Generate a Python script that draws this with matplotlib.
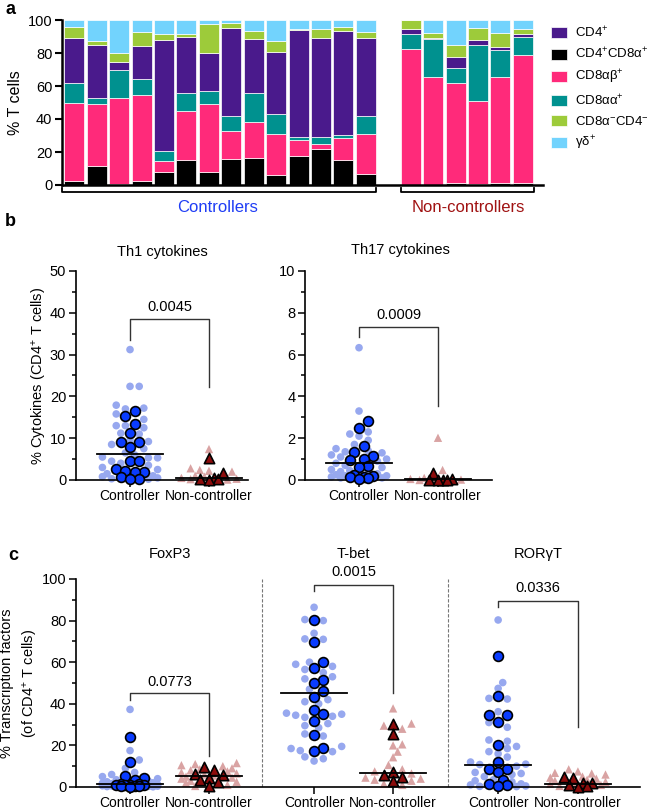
import numpy as np
import matplotlib.pyplot as plt

plt.rcParams['font.family'] = ['Liberation Sans', 'DejaVu Sans']
plt.rcParams['mathtext.fontset'] = 'custom'
plt.rcParams['mathtext.rm'] = 'Liberation Sans'
plt.rcParams['mathtext.it'] = 'Liberation Sans:italic'

# ---- panel a data (percent of T cells per animal) ----
ctrl_black  = [2.4, 11.7, 0.5, 2.4, 8.0, 15.4, 8.0, 16.0, 16.4, 5.9, 17.6, 21.6, 15.2, 6.7]
ctrl_pink   = [47.6, 37.6, 52.2, 51.9, 6.3, 29.4, 41.3, 17.0, 21.6, 25.1, 9.4, 3.4, 13.1, 24.3]
ctrl_teal   = [12.0, 3.7, 17.3, 9.7, 6.5, 11.0, 7.5, 8.8, 17.6, 11.8, 2.0, 4.0, 2.0, 11.0]
ctrl_purple = [27.0, 32.0, 4.5, 20.4, 67.2, 34.2, 23.4, 53.6, 33.1, 38.0, 64.7, 60.0, 63.2, 46.9]
ctrl_green  = [7.0, 2.3, 5.5, 8.6, 3.3, 1.7, 17.2, 2.8, 4.8, 6.2, 1.0, 5.7, 2.0, 3.6]
ctrl_cyan   = [4.0, 12.7, 20.0, 7.0, 8.7, 8.3, 2.6, 1.8, 6.5, 13.0, 5.3, 5.3, 4.5, 7.5]

nc_black  = [0.3, 0.3, 1.0, 0.5, 1.0, 1.5]
nc_pink   = [81.9, 65.0, 60.6, 50.5, 64.3, 77.1]
nc_teal   = [9.1, 23.0, 9.5, 33.6, 16.5, 11.4]
nc_purple = [3.0, 1.0, 6.5, 3.3, 2.0, 1.3]
nc_green  = [5.7, 2.7, 7.0, 7.5, 8.2, 3.0]
nc_cyan   = [0.0, 8.0, 15.4, 4.6, 8.0, 5.7]

# ---- panel b data ----
th1_ctrl_light = [31.2, 22.4, 22.4, 17.9, 17.2, 17.0, 15.8, 14.5, 13.0, 13.0, 12.5, 11.2, 11.0,
                  9.5, 9.2, 8.5, 7.5, 6.5, 6.0, 5.5, 5.3, 5.3, 4.5, 4.0, 3.5, 3.0, 2.5, 1.5,
                  1.0, 0.8, 0.5, 0.3, 0.2]
th1_ctrl_dark = [16.6, 15.2, 13.4, 11.3, 9.0, 9.0, 7.8, 4.6, 4.6, 2.6, 2.0, 2.0, 2.2, 0.6, 0.3, 0.2]
th1_nc_light = [7.4, 2.8, 2.4, 2.2, 2.0, 1.0, 0.8, 0.5, 0.3, 0.2, 0.1]
th1_nc_dark = [5.2, 1.7, 0.5, 0.3, 0.2, 0.1]
th1_medians = [6.2, 0.5]

th17_ctrl_light = [6.33, 3.3, 2.3, 2.2, 2.1, 1.9, 1.7, 1.5, 1.4, 1.35, 1.3, 1.2, 1.1, 1.0, 0.9,
                   0.8, 0.7, 0.6, 0.5, 0.45, 0.4, 0.4, 0.3, 0.3, 0.25, 0.2, 0.2, 0.15, 0.1, 0.1]
th17_ctrl_dark = [2.82, 2.47, 1.63, 1.32, 1.16, 0.99, 0.96, 0.67, 0.64, 0.24, 0.14, 0.15, 0.2, 0.1, 0.05]
th17_nc_light = [2.02, 0.48, 0.1, 0.05, 0.05, 0.02, 0.0]
th17_nc_dark = [0.33, 0.05, 0.02, 0.02, 0.0, 0.01]
th17_medians = [0.81, 0.05]

# ---- panel c data ----
fox_ctrl_light = [37.3, 17.5, 13.0, 9.0, 7.0, 6.0, 5.0, 4.0, 3.5, 3.0, 2.8, 2.5, 2.2, 2.0, 1.8,
                  1.6, 1.5, 1.2, 1.0, 0.9, 0.8, 0.7, 0.6, 0.5, 0.4, 0.3, 0.2, 0.1]
fox_ctrl_dark = [24.0, 12.0, 5.3, 4.5, 3.4, 1.6, 1.3, 1.2, 1.0, 1.0, 0.8, 0.5, 0.4, 0.3, 0.2]
fox_nc_light = [11.5, 11.0, 10.5, 10.0, 9.0, 8.5, 8.0, 7.5, 7.0, 6.5, 6.0, 5.5, 5.0, 4.5, 4.0,
                3.0, 2.5, 2.0, 1.0, 0.5]
fox_nc_dark = [9.6, 8.2, 6.2, 5.8, 4.2, 3.4, 2.6, 0.5]
fox_medians = [1.6, 5.3]

tbet_ctrl_light = [86.4, 80.5, 80.0, 73.9, 71.2, 71.0, 60.0, 59.0, 58.0, 56.5, 55.0, 53.0, 52.0,
                   47.0, 42.0, 41.0, 40.0, 35.5, 35.0, 34.5, 34.0, 33.5, 30.5, 29.5, 28.5, 25.5,
                   24.5, 19.5, 18.5, 17.5, 17.0, 14.5, 13.6, 12.5]
tbet_ctrl_dark = [80.3, 69.9, 60.0, 57.4, 51.3, 49.9, 46.3, 43.4, 37.0, 35.1, 31.7, 25.0, 18.6, 17.3]
tbet_nc_light = [37.8, 30.5, 29.5, 28.0, 20.5, 20.0, 17.0, 14.3, 10.6, 8.5, 7.5, 6.5, 4.5, 4.0,
                 3.5, 3.0, 1.5, 1.0]
tbet_nc_dark = [30.1, 25.3, 7.4, 5.8, 5.0, 2.9]
tbet_medians = [45.0, 6.9]

ror_ctrl_light = [80.3, 50.2, 47.4, 42.6, 42.3, 36.2, 31.0, 28.7, 22.6, 22.0, 19.5, 18.5, 17.0,
                  16.0, 14.4, 12.0, 11.0, 10.8, 10.0, 7.0, 6.5, 6.0, 5.0, 3.5, 3.0, 2.5, 1.5,
                  1.0, 0.5, 0.3, 0.2]
ror_ctrl_dark = [63.0, 43.8, 34.6, 34.6, 31.1, 20.2, 12.2, 8.7, 8.7, 7.4, 3.4, 1.3, 0.9, 0.6]
ror_nc_light = [8.5, 7.5, 6.8, 6.5, 6.0, 5.0, 4.5, 4.0, 3.5, 3.0, 2.5, 2.0, 1.5, 1.0, 0.5]
ror_nc_dark = [5.0, 4.5, 1.8, 1.8, 1.0, 0.3, 0.1]
ror_medians = [10.6, 1.4]

p_values = ['0.0045', '0.0009', '0.0773', '0.0015', '0.0336']

# colours
c_purple = '#4a1a8c'
c_pink = '#ff2a7a'
c_teal = '#00918f'
c_green = '#9dcb3a'
c_cyan = '#72d3fd'
light_blue = '#97a8ef'
dark_blue = '#0a3cff'
light_red = '#d9a3a3'
dark_red = '#8c0c0c'

W, H = 653, 809
fig = plt.figure(figsize=(W / 100, H / 100), dpi=100)


def box(l, r, t, b):
    return [l / W, 1 - b / H, (r - l) / W, (b - t) / H]


def swarm(vals, ppx, ppy, diam, step, maxk, placed):
    # place points side by side in columns (pixel units), overlapping when crowded
    vals = np.asarray(vals, float)
    xs = np.zeros(len(vals))
    cands = [0.0]
    for k in range(1, maxk + 1):
        cands += [k * step, -k * step]
    for i in np.argsort(vals):
        y = vals[i] * ppy
        best, best_d = None, -1
        for x in cands:
            d = min([np.hypot(x - px, y - py) for px, py in placed] + [1e9])
            if d >= diam:
                best = x
                break
            if d > best_d:
                best, best_d = x, d
        placed.append((best, y))
        xs[i] = best / ppx
    return xs


# ================= panel a =================
ax = fig.add_axes(box(62, 543, 20, 185))
pos = list(range(14)) + list(range(15, 21))
stack = [
    (ctrl_black + nc_black, 'black', 'CD4$^{+}$CD8α$^{+}$'),
    (ctrl_pink + nc_pink, c_pink, 'CD8αβ$^{+}$'),
    (ctrl_teal + nc_teal, c_teal, 'CD8αα$^{+}$'),
    (ctrl_purple + nc_purple, c_purple, 'CD4$^{+}$'),
    (ctrl_green + nc_green, c_green, 'CD8α$^{-}$CD4$^{-}$'),
    (ctrl_cyan + nc_cyan, c_cyan, 'γδ$^{+}$'),
]
bottom = np.zeros(len(pos))
handles = {}
for vals, col, lab in stack:
    h = ax.bar(pos, vals, bottom=bottom, width=0.89, color=col, edgecolor='white',
               linewidth=0.5, label=lab)
    handles[lab] = h
    bottom += np.array(vals)
ax.set_xlim(-0.55, 20.9)
ax.set_ylim(0, 100)
ax.set_yticks([0, 20, 40, 60, 80, 100])
ax.set_xticks([])
ax.tick_params(axis='y', labelsize=10.5, width=1.5, length=5, pad=2)
ax.spines[['top', 'right']].set_visible(False)
ax.spines['left'].set_linewidth(1.8)
ax.spines['bottom'].set_linewidth(1.8)
ax.set_ylabel('% T cells', fontsize=11.5, labelpad=3)
order = ['CD4$^{+}$', 'CD4$^{+}$CD8α$^{+}$', 'CD8αβ$^{+}$', 'CD8αα$^{+}$',
         'CD8α$^{-}$CD4$^{-}$', 'γδ$^{+}$']
fig.legend([handles[k] for k in order], order, loc='upper left',
           bbox_to_anchor=(543 / W, 1 - 17 / H), frameon=False, fontsize=9.5,
           handlelength=1.2, handleheight=0.9, labelspacing=0.5, handletextpad=0.6,
           borderaxespad=0.2)

# brackets under the bars
for x0, x1, txt, col, xc in [(62, 376, 'Controllers', '#1f3df5', 218),
                             (401, 534, 'Non-controllers', '#a01212', 468)]:
    fig.add_artist(plt.Line2D([x0 / W, x0 / W, x1 / W, x1 / W],
                              [1 - 188 / H, 1 - 192 / H, 1 - 192 / H, 1 - 188 / H],
                              color='black', lw=1.3))
    fig.text(xc / W, 1 - 207 / H, txt, color=col, fontsize=12, ha='center', va='center')
fig.text(5 / W, 1 - 9 / H, 'a', fontsize=13, fontweight='bold', va='center')


# ================= scatter helpers =================
def group(ax, x, light, dark, median, ppx, ppy, circle=True):
    placed = []
    xd = swarm(dark, ppx, ppy, 9.0, 4.6, 3, placed)
    xl = swarm(light, ppx, ppy, 7.0, 4.6, 6, placed)
    if circle:
        ax.scatter(x + xl, light, s=30, color=light_blue, edgecolors='none', zorder=2,
                   clip_on=False)
        ax.scatter(x + xd, dark, s=50, color=dark_blue, edgecolors='black', linewidths=1.2,
                   zorder=3, clip_on=False)
    else:
        ax.scatter(x + xl, light, s=36, marker='^', color=light_red, edgecolors='none',
                   zorder=2, clip_on=False)
        ax.scatter(x + xd, dark, s=55, marker='^', color=dark_red, edgecolors='black',
                   linewidths=1.2, zorder=3, clip_on=False)
    ax.plot([x - 0.42, x + 0.42], [median, median], color='black', lw=1.3, zorder=4)


def bracket(ax, x0, x1, yl, yh, yr, txt, ty):
    ax.plot([x0, x0, x1, x1], [yl, yh, yh, yr], color='#333333', lw=1.0, clip_on=False)
    ax.text((x0 + x1) / 2, ty, txt, ha='center', va='center', fontsize=10.5, clip_on=False)


def style(ax, ymax, major, minor, xt, xlim):
    ax.set_ylim(0, ymax)
    ax.set_xlim(*xlim)
    ax.set_yticks(np.arange(0, ymax + 0.01, major))
    ax.set_yticks(np.arange(0, ymax + 0.01, minor), minor=True)
    ax.set_xticks(xt)
    ax.set_xticklabels(['Controller', 'Non-controller'] * (len(xt) // 2), fontsize=10)
    ax.tick_params(axis='y', labelsize=10.5, width=1.1, length=5, pad=2)
    ax.tick_params(axis='y', which='minor', width=1.1, length=3)
    ax.tick_params(axis='x', width=1.1, length=5, pad=1.5)
    ax.spines[['top', 'right']].set_visible(False)
    ax.spines['left'].set_linewidth(1.2)
    ax.spines['bottom'].set_linewidth(1.2)


PPX = 79.0

# ================= panel b =================
ax1 = fig.add_axes(box(76, 248, 271, 480))
style(ax1, 50, 10, 5, [0, 1], (-0.684, 1.494))
ppy = 209 / 50
group(ax1, 0, th1_ctrl_light, th1_ctrl_dark, th1_medians[0], PPX, ppy)
group(ax1, 1, th1_nc_light, th1_nc_dark, th1_medians[1], PPX, ppy, circle=False)
bracket(ax1, 0, 1, 33.6, 38.6, 22.3, p_values[0], 41.5)
ax1.set_ylabel('% Cytokines (CD4$^{+}$ T cells)', fontsize=10.5, labelpad=1)
ax1.text(0.5, 1.09, 'Th1 cytokines', transform=ax1.transAxes, ha='center', va='center',
         fontsize=10.5)

ax2 = fig.add_axes(box(305, 492, 271, 480))
style(ax2, 10, 2, 1, [0, 1], (-0.684, 1.684))
ppy = 209 / 10
group(ax2, 0, th17_ctrl_light, th17_ctrl_dark, th17_medians[0], PPX, ppy)
group(ax2, 1, th17_nc_light, th17_nc_dark, th17_medians[1], PPX, ppy, circle=False)
bracket(ax2, 0, 1, 6.86, 7.33, 3.54, p_values[1], 7.9)
ax2.text(95 / 187, 1.10, 'Th17 cytokines', transform=ax2.transAxes, ha='center',
         va='center', fontsize=10.5)
fig.text(5 / W, 1 - 222 / H, 'b', fontsize=13, fontweight='bold', va='center')

# ================= panel c =================
ax3 = fig.add_axes(box(76, 640, 579, 787))
xc = [0, 1, 2.33, 3.33, 4.66, 5.67]
style(ax3, 100, 20, 10, xc, (-0.684, 6.456))
ppy = 208 / 100
sets = [
    (fox_ctrl_light, fox_ctrl_dark, fox_nc_light, fox_nc_dark, fox_medians),
    (tbet_ctrl_light, tbet_ctrl_dark, tbet_nc_light, tbet_nc_dark, tbet_medians),
    (ror_ctrl_light, ror_ctrl_dark, ror_nc_light, ror_nc_dark, ror_medians),
]
for i, (cl, cd, nl, nd, med) in enumerate(sets):
    group(ax3, xc[2 * i], cl, cd, med[0], PPX, ppy)
    group(ax3, xc[2 * i + 1], nl, nd, med[1], PPX, ppy, circle=False)
for xs in [1.665, 4.03]:
    ax3.axvline(xs, color='#777777', lw=0.8, ls=(0, (3, 1.5)), zorder=1)
bracket(ax3, xc[0], xc[1], 41.8, 45.0, 15.0, p_values[2], 50.5)
bracket(ax3, xc[2], xc[3], 94.0, 97.0, 45.0, p_values[3], 103.5)
bracket(ax3, xc[4], xc[5], 86.7, 89.6, 28.8, p_values[4], 95.8)
for x, t in zip([0.5, 2.83, 5.165], ['FoxP3', 'T-bet', 'RORγT']):
    ax3.text(x, 112, t, ha='center', va='center', fontsize=10.5, clip_on=False)
ax3.set_ylabel('% Transcription factors\n(of CD4$^{+}$ T cells)', fontsize=10.5,
               labelpad=1, linespacing=1.5)
fig.text(8 / W, 1 - 555 / H, 'c', fontsize=13, fontweight='bold', va='center')

fig.savefig('out.png', dpi=100)
